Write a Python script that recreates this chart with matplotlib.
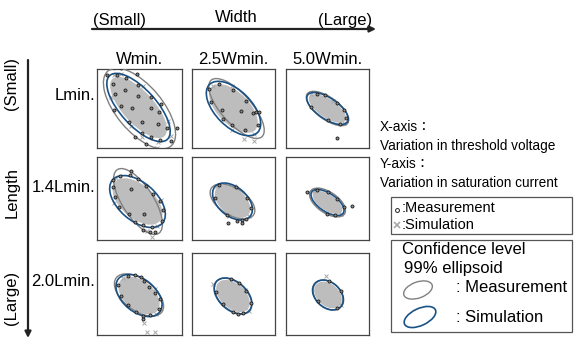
import matplotlib
matplotlib.use('Agg')
import matplotlib.pyplot as plt
from matplotlib.patches import Ellipse, Rectangle
from matplotlib.transforms import Affine2D

plt.rcParams['font.family'] = ['Liberation Sans', 'Noto Sans CJK JP', 'DejaVu Sans']

W_PX, H_PX = 577, 339

col_labels = ['Wmin.', '2.5Wmin.', '5.0Wmin.']
row_labels = ['Lmin.', '1.4Lmin.', '2.0Lmin.']

# ellipse parameters per panel: (cx, cy, major, minor, angle) in pixel units of the panel
meas_ell = [
    [(0, 0, 98, 46, -50), (3, 0, 76, 30, -48), (0, 0, 50, 22, -36)],
    [(-1.5, -3, 76, 31, -57), (-1, -3, 50, 27, -32), (0, -4, 41, 21, -34)],
    [(-0.5, -1, 57, 31, -37), (-0.5, -2, 44, 27, -42), (0.5, -1, 34, 25, -45)],
]
sim_ell = [
    [(-1, 1, 86, 36, -48), (0, 0, 68, 36, -45), (0, 0, 48, 21, -34)],
    [(-2, -3, 66, 38, -41), (-1, -3, 46, 29, -40), (0, -4, 38, 18, -34)],
    [(-0.5, -1.5, 53, 33, -39), (-0.5, -2, 44, 28, -42), (0.5, -1, 35, 25, -42)],
]

# measurement points, in units of the simulation ellipse semi-axes (u along major, v along minor)
meas_uv = [
    [
        [(-0.9, 0.3), (-0.8, -0.2), (-0.7, 0.6), (-0.6, -0.5), (-0.5, 0.1), (-0.4, 0.8),
         (-0.3, -0.7), (-0.2, 0.4), (-0.1, -0.3), (0.0, 0.9), (0.1, -0.9), (0.2, 0.5),
         (0.3, -0.4), (0.4, 0.7), (0.5, -0.8), (0.6, 0.2), (0.7, -0.6), (0.8, 0.4),
         (0.9, -0.3), (1.1, 0.1), (-1.05, -0.1), (0.95, 0.8), (0.45, -1.25), (-0.6, 1.15),
         (0.75, -1.05), (1.15, -0.6), (-0.95, 0.75), (0.3, 1.05), (-0.35, -1.1)],
        [(-0.8, 0.4), (-0.6, -0.6), (-0.4, 0.7), (-0.2, -0.5), (0.1, 0.8), (0.3, -0.7),
         (0.5, 0.6), (0.55, 0.75), (0.6, 0.85), (0.7, -0.4), (0.85, 0.3), (-0.9, -0.2),
         (0.0, -0.85), (0.2, 0.2)],
        [(-0.7, 0.6), (-0.4, 0.9), (0.2, 0.9), (0.6, 0.7), (0.8, -0.6), (-0.6, -0.8),
         (0.3, -0.9), (0.85, 0.2), (1.0, -1.8)],
    ],
    [
        [(-0.9, 0.4), (-0.85, -0.3), (-0.7, 0.8), (-0.6, -0.6), (-0.45, 0.9), (-0.3, -0.85),
         (-0.1, 0.9), (0.05, -0.8), (0.2, 0.85), (0.35, -0.9), (0.5, 0.8), (0.6, -0.75),
         (0.75, 0.55), (0.85, -0.5), (0.95, 0.1), (-1.0, 0.0), (0.4, -0.3), (-0.4, 0.3),
         (0.7, -0.95), (0.9, -0.8), (1.0, -0.6), (-0.75, 1.0)],
        [(-0.9, 0.3), (-0.7, -0.6), (-0.3, 0.9), (0.4, 0.85), (0.8, 0.5), (0.95, -0.3),
         (0.7, -0.8), (0.2, -0.95), (0.85, -0.55), (0.9, -0.7), (0.45, -1.3)],
        [(-0.8, 0.5), (-0.3, 0.95), (0.3, 0.95), (0.85, 0.6), (0.7, -0.7), (-1.2, -0.3),
         (1.15, 1.2), (0.3, -1.1)],
    ],
    [
        [(-0.8, 0.5), (-0.6, 0.85), (-0.4, 0.95), (-0.2, 0.9), (0.1, 0.8), (0.4, 0.7),
         (0.7, 0.6), (0.8, -0.5), (0.6, -0.8), (0.3, -0.9), (-0.1, -0.85), (-0.5, -0.7),
         (-0.85, -0.3), (0.9, 0.1), (0.65, -0.95)],
        [(-0.6, 0.8), (-0.2, 0.95), (0.3, 0.9), (0.8, 0.5), (0.85, -0.4), (0.5, -0.85),
         (-0.1, -0.9), (-0.7, -0.6), (0.7, -0.7)],
        [(-0.5, 0.85), (0.4, 0.9), (0.85, -0.3), (-0.2, -0.9)],
    ],
]

# simulation points (grey crosses), same units
sim_uv = [
    [
        [(-0.95, 0.2), (-0.85, 0.55), (0.9, -0.45), (1.0, 0.3), (0.55, -0.95), (-0.3, 0.95),
         (0.2, -1.0), (-0.6, -0.75), (0.7, 0.7), (-1.1, 0.4), (1.0, -0.75)],
        [(-0.9, 0.1), (0.95, -0.2), (0.4, -0.9), (-0.5, 0.8), (0.85, -0.8), (1.1, -0.5)],
        [(-0.9, 0.3), (0.9, -0.3), (0.0, 0.9)],
    ],
    [
        [(-0.95, 0.2), (0.95, -0.3), (-0.5, -0.85), (0.5, 0.85), (0.8, -0.85), (1.05, -0.9)],
        [(-0.95, 0.1), (0.95, 0.0), (0.3, -0.9), (-0.4, 0.9)],
        [(-0.9, 0.2), (0.9, -0.2)],
    ],
    [
        [(-0.9, 0.2), (0.95, -0.2), (0.8, -1.1), (1.1, -1.4), (1.35, -1.1), (0.3, 0.9)],
        [(-1.05, -0.3), (1.0, 0.0), (0.2, 0.9)],
        [(-0.8, 1.05), (0.9, 0.1)],
    ],
]

col_px = [(97, 182), (192, 275), (286, 369)]
row_px = [(69, 148), (157, 240), (253, 335)]

BLUE = '#1b5286'
GREY_ELL = '#808080'
CLOUD = '#bdbdbd'
SIM_X = '#a8a8a8'

fig = plt.figure(figsize=(W_PX / 100, H_PX / 100), dpi=100)

for r, (y0, y1) in enumerate(row_px):
    for c, (x0, x1) in enumerate(col_px):
        w, h = x1 - x0, y1 - y0
        ax = fig.add_axes([x0 / W_PX, 1 - y1 / H_PX, w / W_PX, h / H_PX])
        ax.set_xlim(-w / 2, w / 2)
        ax.set_ylim(-h / 2, h / 2)
        ax.set_xticks([])
        ax.set_yticks([])
        for sp in ax.spines.values():
            sp.set_color('#444444')
            sp.set_linewidth(0.9)

        scx, scy, sa, sb, sang = sim_ell[r][c]
        uv_tr = Affine2D().scale(sa / 2, sb / 2).rotate_deg(sang).translate(scx, scy) + ax.transData

        ax.add_patch(Ellipse((scx, scy), sa * 0.9, sb * 0.88, angle=sang,
                             facecolor=CLOUD, edgecolor='none', zorder=1))
        su = [p[0] for p in sim_uv[r][c]]
        sv = [p[1] for p in sim_uv[r][c]]
        ax.plot(su, sv, 'x', color=SIM_X, ms=2.6, mew=0.7, transform=uv_tr, zorder=2)

        mcx, mcy, ma, mb, mang = meas_ell[r][c]
        ax.add_patch(Ellipse((mcx, mcy), ma, mb, angle=mang, facecolor='none',
                             edgecolor=GREY_ELL, lw=1.0, zorder=3))
        ax.add_patch(Ellipse((scx, scy), sa, sb, angle=sang, facecolor='none',
                             edgecolor=BLUE, lw=1.2, zorder=4))

        mu = [p[0] for p in meas_uv[r][c]]
        mv = [p[1] for p in meas_uv[r][c]]
        ax.plot(mu, mv, 'o', ms=2.2, mfc='#8a8a8a', mec='#1a1a1a', mew=0.6,
                transform=uv_tr, zorder=5)

# overlay in pixel coordinates for labels, arrows and legend
ov = fig.add_axes([0, 0, 1, 1], facecolor='none')
ov.set_xlim(0, W_PX)
ov.set_ylim(H_PX, 0)
ov.axis('off')

fs = 12
ov.text(120, 20, '(Small)', ha='center', va='center', fontsize=fs)
ov.text(236, 18, 'Width', ha='center', va='center', fontsize=fs)
ov.text(345, 20, '(Large)', ha='center', va='center', fontsize=fs)
ov.annotate('', xy=(376, 29), xytext=(92, 29),
            arrowprops=dict(arrowstyle='-|>', color='#222222', lw=1.6,
                            mutation_scale=9, shrinkA=0, shrinkB=0))

for (x0, x1), lab in zip(col_px, col_labels):
    ov.text((x0 + x1) / 2, 59, lab, ha='center', va='center', fontsize=fs)

ov.annotate('', xy=(28, 338), xytext=(28, 60),
            arrowprops=dict(arrowstyle='-|>', color='#222222', lw=1.6,
                            mutation_scale=9, shrinkA=0, shrinkB=0))
ov.text(12, 84, '(Small)', ha='center', va='center', rotation=90, fontsize=fs)
ov.text(12, 193, 'Length', ha='center', va='center', rotation=90, fontsize=fs)
ov.text(12, 298, '(Large)', ha='center', va='center', rotation=90, fontsize=fs)

for ypos, lab in zip([96, 188, 281], row_labels):
    ov.text(95, ypos, lab, ha='right', va='center', fontsize=fs)

fs2 = 9.8
ov.text(380, 127, 'X-axis\uff1a', ha='left', va='center', fontsize=fs2)
ov.text(380, 146, 'Variation in threshold voltage', ha='left', va='center', fontsize=fs2)
ov.text(380, 164, 'Y-axis\uff1a', ha='left', va='center', fontsize=fs2)
ov.text(380, 183, 'Variation in saturation current', ha='left', va='center', fontsize=fs2)

# legend boxes
ov.add_patch(Rectangle((391, 197), 181, 37, facecolor='none', edgecolor='#555555', lw=0.9))
ov.plot([397], [210], 'o', ms=2.8, mfc='white', mec='#222222', mew=0.7)
ov.text(402, 208, ':Measurement', ha='left', va='center', fontsize=10.5)
ov.plot([397], [225], 'x', ms=4, mew=1.2, color=SIM_X)
ov.text(402, 225, ':Simulation', ha='left', va='center', fontsize=10.5)

ov.add_patch(Rectangle((391, 240), 181, 92, facecolor='none', edgecolor='#555555', lw=0.9))
ov.text(402, 250, 'Confidence level', ha='left', va='center', fontsize=fs)
ov.text(404, 268, '99% ellipsoid', ha='left', va='center', fontsize=fs)
ov.add_patch(Ellipse((418, 290), 30, 16, angle=-20, facecolor='none',
                     edgecolor=GREY_ELL, lw=1.0))
ov.text(456, 288, ': Measurement', ha='left', va='center', fontsize=fs)
ov.add_patch(Ellipse((420, 317), 34, 17, angle=-25, facecolor='none',
                     edgecolor=BLUE, lw=1.2))
ov.text(456, 318, ': Simulation', ha='left', va='center', fontsize=fs)

fig.savefig('out.png', dpi=100)
